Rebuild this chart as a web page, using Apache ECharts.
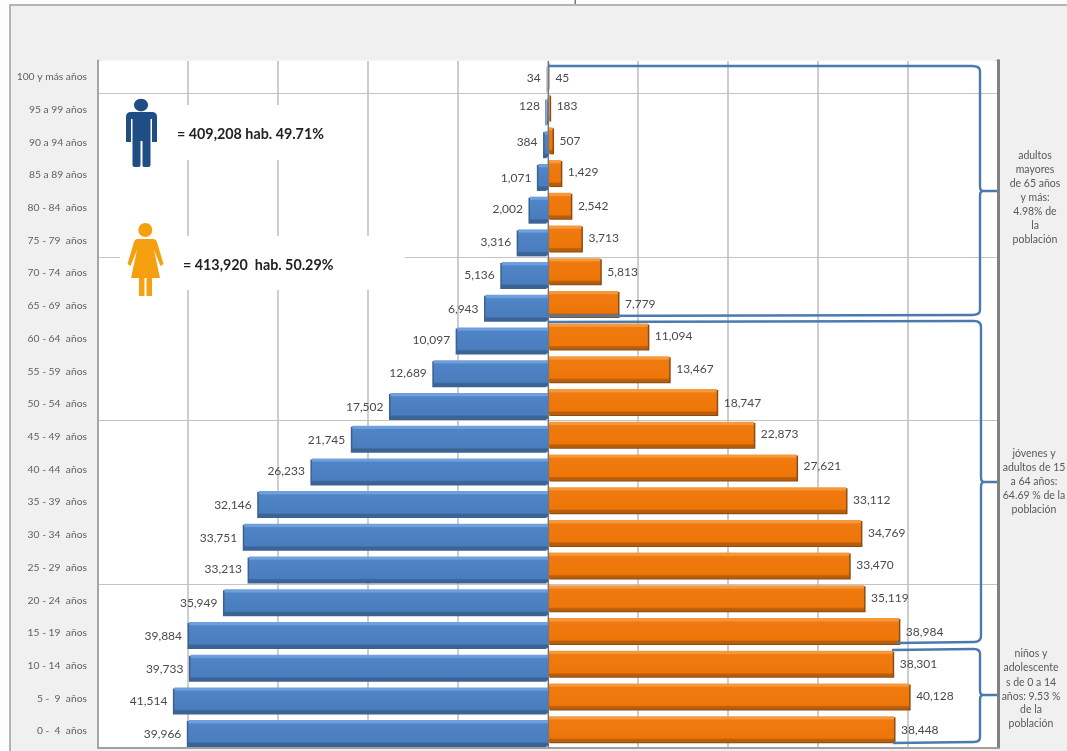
<!DOCTYPE html>
<html>
<head>
<meta charset="utf-8">
<style>
html,body{margin:0;padding:0;width:1067px;height:751px;background:#fdfdfd;overflow:hidden}
#frame{position:absolute;left:9px;top:4px;right:0;bottom:0;background:#f0f0f0;border-top:2px solid #b4b4b4;border-left:2px solid #b4b4b4}
#main{position:absolute;left:0;top:0;width:1067px;height:751px}
</style>
<script src="https://cdn.jsdelivr.net/npm/echarts@6/dist/echarts.min.js"></script>
</head>
<body>
<div id="frame"></div>
<div id="main"></div>
<script>
var categories = ['0 -  4  años','5 -  9  años','10 - 14  años','15 - 19  años','20 - 24  años','25 - 29  años','30 - 34  años','35 - 39  años','40 - 44  años','45 - 49  años','50 - 54  años','55 - 59  años','60 - 64  años','65 - 69  años','70 - 74  años','75 - 79  años','80 - 84  años','85 a 89 años','90 a 94 años','95 a 99 años','100 y más años'];
var hombres = [39966,41514,39733,39884,35949,33213,33751,32146,26233,21745,17502,12689,10097,6943,5136,3316,2002,1071,384,128,34];
var mujeres = [38448,40128,38301,38984,35119,33470,34769,33112,27621,22873,18747,13467,11094,7779,5813,3713,2542,1429,507,183,45];
var xTicks = {min:-50000,max:50000,interval:10000};
var hombresLabelDy = [1,1,1,1,1,0,1,1,0,1,1,0,0,1,0,0,-1,1,-2,-5,-1];
var mujeresLabelDy = [1,0,0,1,0,0,0,0,-1,-1,1,0,0,0,1,0,0,-1,1,-1,3];

var fontName = 'Lato, Carlito, "Open Sans", sans-serif';
var chart = echarts.init(document.getElementById('main'), null, {renderer:'canvas'});
function fmt(p){return Math.abs(p.value).toLocaleString('en-US');}
function grad(a,b,c,d){
  return new echarts.graphic.LinearGradient(0,0,0,1,[
    {offset:0,color:a},{offset:0.1,color:a},{offset:0.15,color:b},{offset:0.84,color:c},{offset:0.9,color:d},{offset:1,color:d}]);
}
function txt(x,y,t,o){
  return {type:'text',z:110,x:x,y:y,style:Object.assign({text:t,fontFamily:fontName,fontSize:10.5,fill:'#595959',align:'center',verticalAlign:'middle'},o||{})};
}
function patch(x,y,w,h,c){return {type:'rect',z:100,shape:{x:x,y:y,width:w,height:h},style:{fill:c||'#fff'}};}
var shapeCount = 0;
function pathEl(d,style,z){
  var name = 'annot' + (shapeCount++);
  echarts.graphic.registerShape(name, echarts.graphic.extendPath(d,{}));
  return {type:name,z:z,style:style};
}
var bracketStyle = {stroke:'#4a7ab0',lineWidth:2.4,fill:'none'};
var graphics = [
  patch(99.5,59.5,896,1.6,'#f4f4f4'),
  patch(118,95,48,85), patch(166,105,165,55),
  patch(120,222,50,78), patch(170,236,235,54),
  {type:'rect',z:106,shape:{x:574.5,y:0,width:1.5,height:4},style:{fill:'#777'}},
  pathEl('M131,112 L152,112 Q157,112 157,117 L157,142 L152,142 L152,119 L150.5,119 L150.5,165 Q150.5,167 148.5,167 L144,167 Q142.5,167 142.5,165 L142.5,141 L140.5,141 L140.5,165 Q140.5,167 138.5,167 L134.5,167 Q132.5,167 132.5,165 L132.5,119 L131,119 L131,142 L126,142 L126,117 Q126,112 131,112 Z',{fill:'#1f4e85'},108),
  {type:'ellipse',z:108,shape:{cx:141,cy:105,rx:7,ry:6.3},style:{fill:'#1f4e85'}},
  pathEl('M137,239 L153,239 Q156,239 157,242 L163.5,264 L160.5,266 L154,250 L160,278 L152,278 L152,296 L146.5,296 L146.5,278 L144.5,278 L144.5,296 L139,296 L139,278 L131,278 L137,250 L130.5,266 L127.5,264 L134,242 Q135,239 137,239 Z',{fill:'#f5a010'},108),
  {type:'circle',z:108,shape:{cx:145.3,cy:230,r:7},style:{fill:'#f5a010'}},
  txt(177,134,'= 409,208 hab. 49.71%',{align:'left',fontSize:14.3,fontWeight:'bold',fill:'#222'}),
  txt(183,265,'= 413,920  hab. 50.29%',{align:'left',fontSize:14.3,fontWeight:'bold',fill:'#222'}),
  pathEl('M548,66 L972,66 Q980,66 980,71 L980,186 Q980,191 983,191 L997,191 L983,191 Q980,191 980,196 L980,310 Q980,315 972,315 L548,316',bracketStyle,105),
  pathEl('M548,322 L974,321 Q981,321 981,327 L981,477 Q981,482 984,482 L997,482 L984,482 Q981,482 981,487 L981,636 Q981,642 974,642 L897,643',bracketStyle,105),
  pathEl('M892,650 L974,649 Q980,649 980,654 L980,690 Q980,695 983,695 L997,695 L983,695 Q980,695 980,700 L980,737 Q980,742 974,742 L893,743',bracketStyle,105)
];
[['adultos',156],['mayores',170],['de 65 años',184],['y más:',198],['4.98% de',212],['la',226],['población',240]].forEach(function(l){graphics.push(txt(1035,l[1],l[0]));});
[['jóvenes y',454],['adultos de 15',468],['a 64 años:',482],['64.69 % de la',496],['población',510]].forEach(function(l){graphics.push(txt(1034,l[1],l[0]));});
[['niños y',654],['adolescente',668],['s de 0 a 14',683],['años: 9.53 %',697],['de la',710],['población',724]].forEach(function(l){graphics.push(txt(1031,l[1],l[0]));});

chart.setOption({
  animation:false,
  backgroundColor:'transparent',
  grid:{show:true,left:98,right:69,top:60.5,height:687,backgroundColor:'#fff',borderWidth:0},
  xAxis:{type:'value',min:xTicks.min,max:xTicks.max,interval:xTicks.interval,
    axisLabel:{show:false},axisTick:{show:false},
    axisLine:{show:true,onZero:false,lineStyle:{color:'#a0a0a0',width:2}},
    splitLine:{show:true,lineStyle:{color:'#bdbdbd',width:1.5}}},
  yAxis:[
    {type:'category',data:categories,position:'left',
     axisLine:{show:true,onZero:false,lineStyle:{color:'#a6a6a6',width:2}},
     axisTick:{show:false},
     axisLabel:{interval:0,margin:11,fontFamily:fontName,fontSize:10.3,color:'#5f5f5f'},
     splitLine:{show:true,interval:4,lineStyle:{color:'#c4c4c4',width:1.2}}},
    {type:'category',data:categories,position:'right',
     axisLine:{show:true,onZero:false,lineStyle:{color:'#808080',width:3}},
     axisTick:{show:false},axisLabel:{show:false},splitLine:{show:false}}
  ],
  series:[
    {name:'Mujeres',type:'bar',barWidth:26,barGap:'-85%',
     data:mujeres.map(function(v,i){return {value:v,label:{offset:[0,mujeresLabelDy[i]]}};}),
     itemStyle:{color:grad('#f59a3c','#f07a10','#ee7608','#b85d0a'),shadowColor:'#8a4c14',shadowOffsetX:1.5,shadowOffsetY:1,shadowBlur:0},
     label:{show:true,position:'right',distance:7,formatter:fmt,fontFamily:fontName,fontSize:12,color:'#4a4a4a'}},
    {name:'Hombres',type:'bar',barWidth:26,barGap:'-85%',
     data:hombres.map(function(v,i){return {value:-v,label:{offset:[0,hombresLabelDy[i]]}};}),
     itemStyle:{color:grad('#6f9fdc','#4f84c6','#4a7dbd','#3b6496'),shadowColor:'#3c618f',shadowOffsetX:-1.5,shadowOffsetY:1,shadowBlur:0},
     label:{show:true,position:'left',distance:7,formatter:fmt,fontFamily:fontName,fontSize:12,color:'#4a4a4a'},
     markLine:{silent:true,symbol:'none',label:{show:false},lineStyle:{color:'#777',width:1.2,type:'solid'},data:[{xAxis:0}]}}
  ],
  graphic:graphics
});
</script>
</body>
</html>
